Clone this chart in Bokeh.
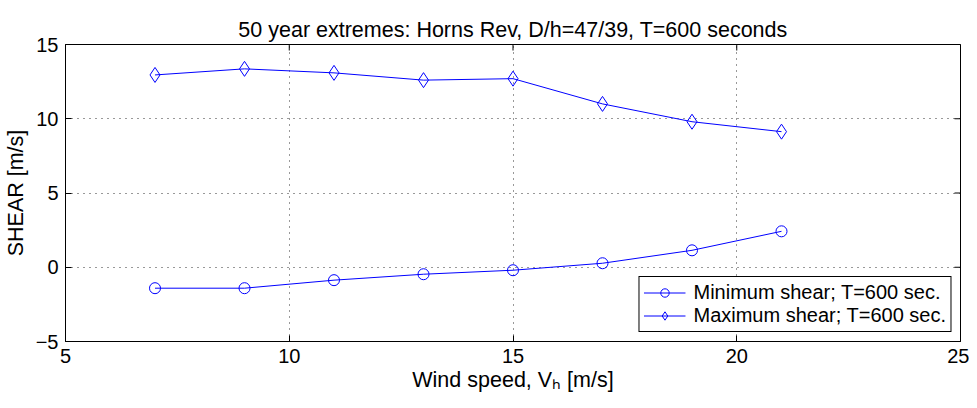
import math
from bokeh.plotting import figure
from bokeh.models import Range1d, FixedTicker, Legend, LegendItem
from bokeh.embed import file_html
from bokeh.resources import INLINE

# Data
wind_speed = [7, 9, 11, 13, 15, 17, 19, 21]
min_shear = [-1.41, -1.41, -0.87, -0.47, -0.20, 0.27, 1.14, 2.42]
max_shear = [12.95, 13.36, 13.09, 12.60, 12.70, 11.00, 9.80, 9.13]
x_ticks = [5, 10, 15, 20, 25]
y_ticks = [-5, 0, 5, 10, 15]

FONT = "Liberation Sans"
BLUE = "#0000ff"

p = figure(width=969, height=400, output_backend="svg", toolbar_location=None,
           x_range=Range1d(x_ticks[0], x_ticks[-1]), y_range=Range1d(y_ticks[0], y_ticks[-1]),
           min_border_left=65, min_border_right=9, min_border_top=44, min_border_bottom=59,
           title="50 year extremes: Horns Rev, D/h=47/39, T=600 seconds")

p.title.text_font = FONT
p.title.text_font_size = "21.5px"
p.title.text_font_style = "normal"
p.title.align = "center"
p.title.offset = 18
p.title.text_color = "black"
p.title.standoff = 6

p.outline_line_color = "black"
p.outline_line_width = 1
p.outline_line_alpha = 1

for ax, ticks in ((p.xaxis[0], x_ticks), (p.yaxis[0], y_ticks)):
    ax.ticker = FixedTicker(ticks=ticks)
    ax.major_tick_in = 6
    ax.major_tick_out = 0
    ax.minor_tick_line_color = None
    ax.axis_line_color = "black"
    ax.major_tick_line_color = "black"
    ax.major_label_text_font = FONT
    ax.major_label_text_font_size = "20px"
    ax.major_label_text_color = "black"
    ax.axis_label_text_font = FONT
    ax.axis_label_text_font_size = "21.5px"
    ax.axis_label_text_font_style = "normal"
    ax.axis_label_text_color = "black"

p.xaxis[0].axis_label = "Wind speed, Vₕ [m/s]"
p.xaxis[0].major_label_standoff = 7
p.xaxis[0].axis_label_standoff = 2
p.yaxis[0].axis_label = "SHEAR [m/s]"
p.yaxis[0].major_label_standoff = 7
p.yaxis[0].axis_label_standoff = 5
p.yaxis[0].major_label_overrides = {t: str(t).replace("-", "\u2212") for t in y_ticks}

# Tick marks on the top and right edges of the box (inside)
p.scatter(x_ticks, [y_ticks[-1]] * len(x_ticks), marker="dash", angle=math.pi / 2,
          size=12, line_color="black", line_width=1)
p.scatter([x_ticks[-1]] * len(y_ticks), y_ticks, marker="dash",
          size=12, line_color="black", line_width=1)

for g in (p.xgrid[0], p.ygrid[0]):
    g.grid_line_color = "black"
    g.grid_line_dash = "1 5"
    g.grid_line_width = 1
    g.grid_line_alpha = 0.8

p.xgrid[0].ticker = FixedTicker(ticks=x_ticks)
p.ygrid[0].ticker = FixedTicker(ticks=y_ticks)

l1 = p.line(wind_speed, min_shear, line_color=BLUE, line_width=1)
m1 = p.scatter(wind_speed, min_shear, marker="circle", size=11, fill_color=None,
               line_color=BLUE, line_width=1)
l2 = p.line(wind_speed, max_shear, line_color=BLUE, line_width=1)
m2 = p.scatter(wind_speed, max_shear, marker="diamond", size=15, fill_color=None,
               line_color=BLUE, line_width=1)

legend = Legend(items=[
    LegendItem(label="Minimum shear; T=600 sec.", renderers=[l1, m1]),
    LegendItem(label="Maximum shear; T=600 sec.", renderers=[l2, m2]),
], location="bottom_right")
legend.label_text_font = FONT
legend.label_text_font_size = "20px"
legend.label_text_color = "black"
legend.border_line_color = "black"
legend.border_line_width = 1
legend.border_line_alpha = 1
legend.background_fill_color = "white"
legend.background_fill_alpha = 1
legend.padding = 4
legend.spacing = 0
legend.margin = 9
legend.glyph_width = 42
legend.glyph_height = 21
legend.label_height = 21
legend.label_standoff = 8
p.add_layout(legend)

open("out.html", "w").write(file_html(p, INLINE))
